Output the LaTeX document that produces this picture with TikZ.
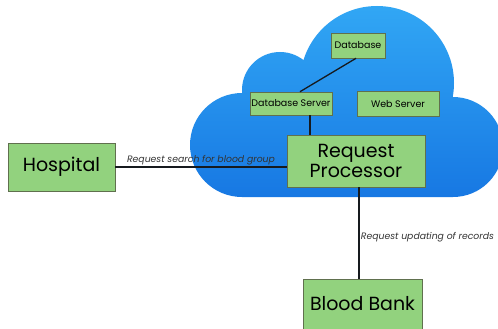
\documentclass[tikz,border=0pt]{standalone}
\usepackage{fontspec}
\setmainfont{Poppins}
\usepackage{tikz}
\usetikzlibrary{positioning,calc}
\definecolor{cloudtop}{RGB}{50,168,245}
\definecolor{cloudbot}{RGB}{22,118,226}
\definecolor{boxfill}{RGB}{146,210,126}
\definecolor{boxline}{RGB}{96,112,78}
\definecolor{wire}{RGB}{22,26,30}

\begin{document}
\begin{tikzpicture}[x=1pt, y=-1pt, font=\fontsize{19}{20}\selectfont]
  \tikzset{bigbox/.style={draw=boxline, fill=boxfill, line width=0.8pt, align=center, inner sep=0pt},smallbox/.style={draw=boxline, fill=boxfill, line width=0.6pt, align=center, inner sep=0pt, font=\fontsize{9.5}{11}\selectfont},link/.style={draw=wire, line width=1.3pt},tag/.style={font=\fontsize{9.3}{10}\itshape\selectfont, text=black!80, inner sep=1.2pt}}
  \useasboundingbox[fill=white] (0,0) rectangle (498,329);
  % cloud
  \begin{scope}
    \clip (242,145) circle (52) (280,90) circle (38) (377,83) circle (77) (453,147) circle (50)
      (242,110) -- (453,110) -- (453,197) -- (242,197) -- cycle;
    \shade[top color=cloudtop, bottom color=cloudbot] (180,0) rectangle (510,205);
  \end{scope}
  \node[smallbox, minimum width=54pt, minimum height=25pt] (db) at (358,45.5) {Database};
  \node[smallbox, minimum width=82pt, minimum height=23pt] (dbserver) at (291,103.5) {Database Server};
  \node[smallbox, minimum width=82pt, minimum height=25pt] (web) at (398,104) {Web Server};
  \node[bigbox, minimum width=138pt, minimum height=52pt] (proc) at (356,161) {Request\\Processor};
  \node[bigbox, minimum width=107pt, minimum height=48pt] (hospital) at (61.5,167) {Hospital};
  \node[bigbox, minimum width=119pt, minimum height=50pt] (bank) at (362.5,304) {Blood Bank};
  \draw[link] ([xshift=9pt]dbserver.north) -- ([xshift=-2pt]db.south);
  \draw[link] ([xshift=19pt]dbserver.south) -- ([xshift=19pt]dbserver.south |- proc.north);
  \draw[link] (hospital.east) -- node[tag, above]{Request search for blood group} (hospital.east -| proc.west);
  \draw[link] ([xshift=3pt]proc.south) -- node[tag, right, pos=0.55]{Request updating of records} ([xshift=3pt]proc.south |- bank.north);
\end{tikzpicture}
\end{document}
